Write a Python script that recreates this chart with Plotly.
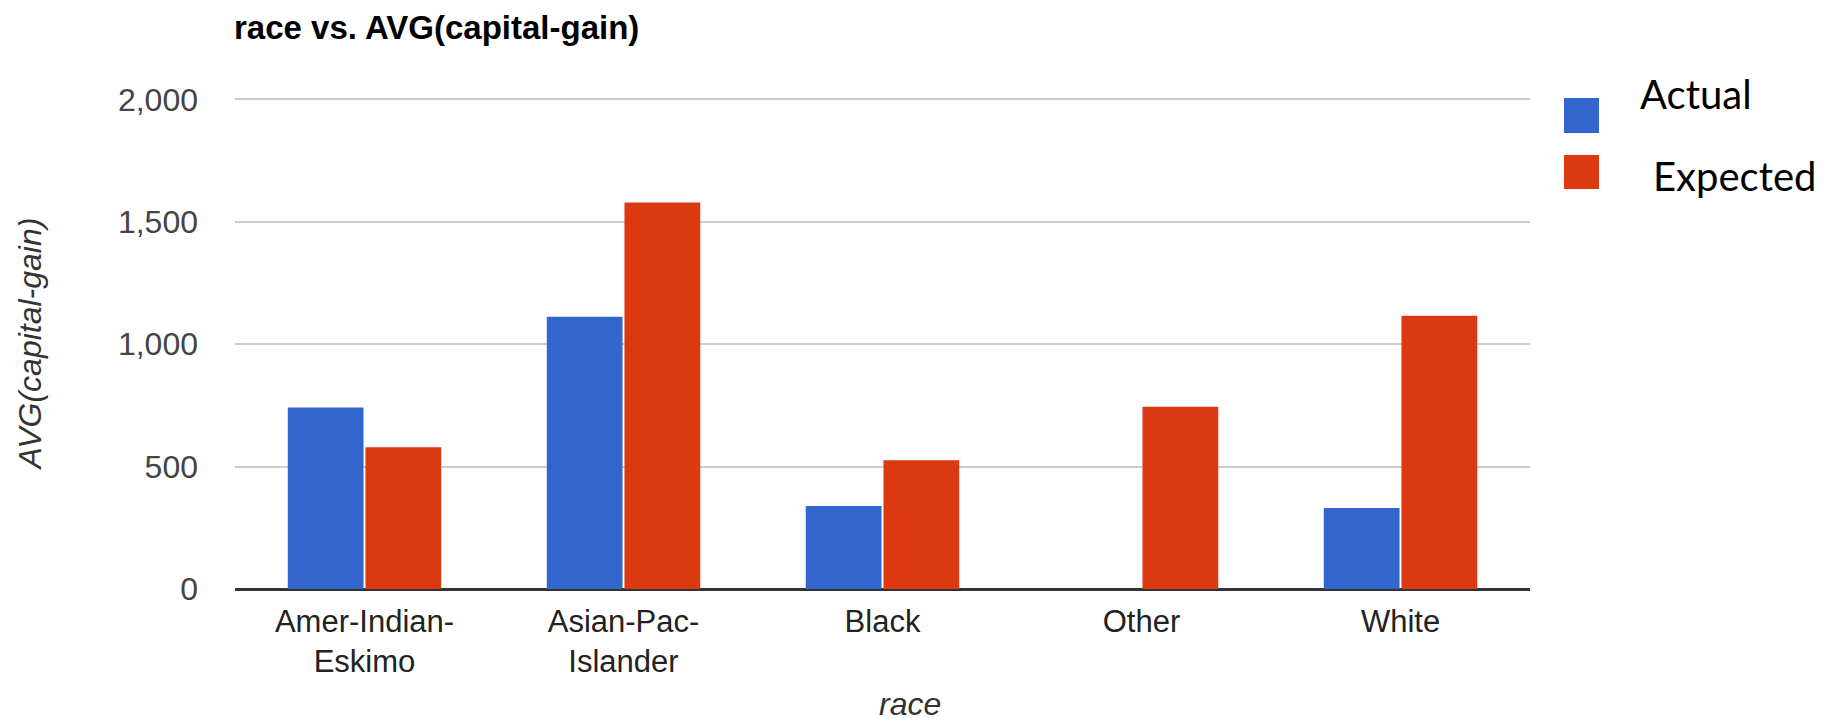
import plotly.graph_objects as go

# Average capital gain by race: observed vs. expected
races = ["Amer-Indian-<br>Eskimo", "Asian-Pac-<br>Islander", "Black", "Other", "White"]
actual = [741, 1112, 339, None, 331]
expected = [579, 1579, 526, 745, 1116]
y_ticks = [0, 500, 1000, 1500, 2000]
y_tick_text = ["0", "500", "1,000", "1,500", "2,000"]

BLUE = "#3366CC"
RED = "#DC3912"

W, H = 1846, 727
L, R, T, B = 235, 316, 97, 138


def px_x(x):
    return (x - L) / (W - L - R)


def px_y(y):
    return (H - B - y) / (H - B - T)


fig = go.Figure()
fig.add_trace(go.Bar(x=races, y=actual, name="Actual", marker_color=BLUE,
                     marker_line_width=0))
fig.add_trace(go.Bar(x=races, y=expected, name="Expected", marker_color=RED,
                     marker_line_width=0))

fig.update_layout(
    width=W, height=H,
    margin=dict(l=L, r=R, t=T, b=B, autoexpand=False),
    paper_bgcolor="white", plot_bgcolor="white",
    barmode="group", bargap=0.4, bargroupgap=0.025,
    showlegend=False,
    font=dict(family="Liberation Sans, Arial, sans-serif", color="#444"),
    title=dict(text="<b>race vs. AVG(capital-gain)</b>",
               x=234 / W, xanchor="left", xref="container",
               y=1 - 27 / H, yanchor="middle", yref="container",
               font=dict(size=33, color="#000")),
)

fig.update_yaxes(
    range=[0, 2010], tickvals=y_ticks, ticktext=y_tick_text,
    tickfont=dict(size=32, color="#444"), ticks="", ticklabelstandoff=36,
    showgrid=True, gridcolor="#CCCCCC", gridwidth=2,
    zeroline=True, zerolinecolor="#333333", zerolinewidth=3,
    showline=False, automargin=False,
    title=dict(text="<i>AVG(capital-gain)</i>", standoff=66,
               font=dict(size=32, color="#333")),
)
fig.update_xaxes(
    tickfont=dict(size=31, color="#222"), ticks="", ticklabelstandoff=11,
    showline=False, showgrid=False, automargin=False,
)

# Axis title for the categories
fig.add_annotation(text="<i>race</i>", xref="paper", yref="paper",
                   x=px_x(910), y=px_y(724), xanchor="center", yanchor="bottom",
                   showarrow=False, font=dict(size=32, color="#333"))

# Legend: coloured squares with series names
for y0, y1, color in [(98, 133, BLUE), (155, 189, RED)]:
    fig.add_shape(type="rect", xref="paper", yref="paper",
                  x0=px_x(1564), x1=px_x(1599), y0=px_y(y1), y1=px_y(y0),
                  fillcolor=color, line_width=0)
fig.add_annotation(text="Actual", xref="paper", yref="paper",
                   x=px_x(1638), y=px_y(94), xanchor="left", yanchor="middle",
                   showarrow=False, font=dict(family="Lato", size=40, color="#000"))
fig.add_annotation(text="Expected", xref="paper", yref="paper",
                   x=px_x(1651), y=px_y(176), xanchor="left", yanchor="middle",
                   showarrow=False, font=dict(family="Lato", size=40, color="#000"))

fig.write_html("out.html")
